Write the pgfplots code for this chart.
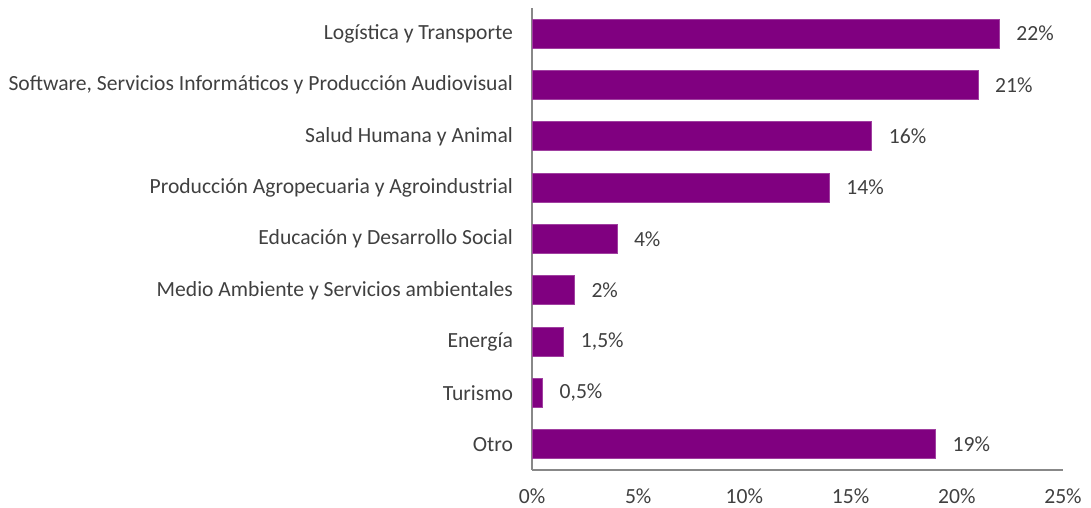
\documentclass[border=0pt]{standalone}
\usepackage{pgfplots}
\pgfplotsset{compat=1.18}
\usepackage{fontspec}
\setmainfont{Carlito}
\definecolor{barpurple}{HTML}{800080}
\definecolor{baredge}{HTML}{A040A0}
\definecolor{txt}{HTML}{404040}
\definecolor{axgray}{HTML}{888888}
\begin{document}
\begin{tikzpicture}
\path[use as bounding box] (0,0) rectangle (545.5pt,254pt);
\begin{axis}[
  at={(266pt,19pt)}, anchor=south west,
  scale only axis, width=265.5pt, height=231pt,
  xbar, bar width=0.565,
  xmin=0, xmax=25, ymin=-0.5, ymax=8.5,
  y dir=reverse,
  axis x line*=bottom, axis y line*=left,
  axis line style={axgray, line width=0.8pt, -},
  xtick={0,5,10,15,20,25},
  xticklabel={\pgfmathprintnumber{\tick}\%},
  ytick={0,...,8},
  yticklabels={Logística y Transporte,{Software, Servicios Informáticos y Producción Audiovisual},Salud Humana y Animal\ ,Producción Agropecuaria y Agroindustrial,Educación y Desarrollo Social,Medio Ambiente y Servicios ambientales,Energía,Turismo,Otro},
  major tick length=0pt,
  tick label style={font=\fontsize{10.8}{12}\selectfont, text=txt},
  yticklabel style={xshift=-6pt},
  xticklabel style={yshift=-6pt},
  /pgf/number format/assume math mode=true,
  nodes near coords,
  point meta=explicit symbolic,
  every node near coord/.append style={font=\fontsize{10.8}{12}\selectfont, text=txt, anchor=west, xshift=5pt},
]
\addplot[fill=barpurple, draw=baredge, line width=0.4pt] coordinates {
  (22,0) [22\%]
  (21,1) [21\%]
  (16,2) [16\%]
  (14,3) [14\%]
  (4,4) [4\%]
  (2,5) [2\%]
  (1.5,6) [{1,5\%}]
  (0.5,7) [{0,5\%}]
  (19,8) [19\%]
};
\end{axis}
\end{tikzpicture}
\end{document}
